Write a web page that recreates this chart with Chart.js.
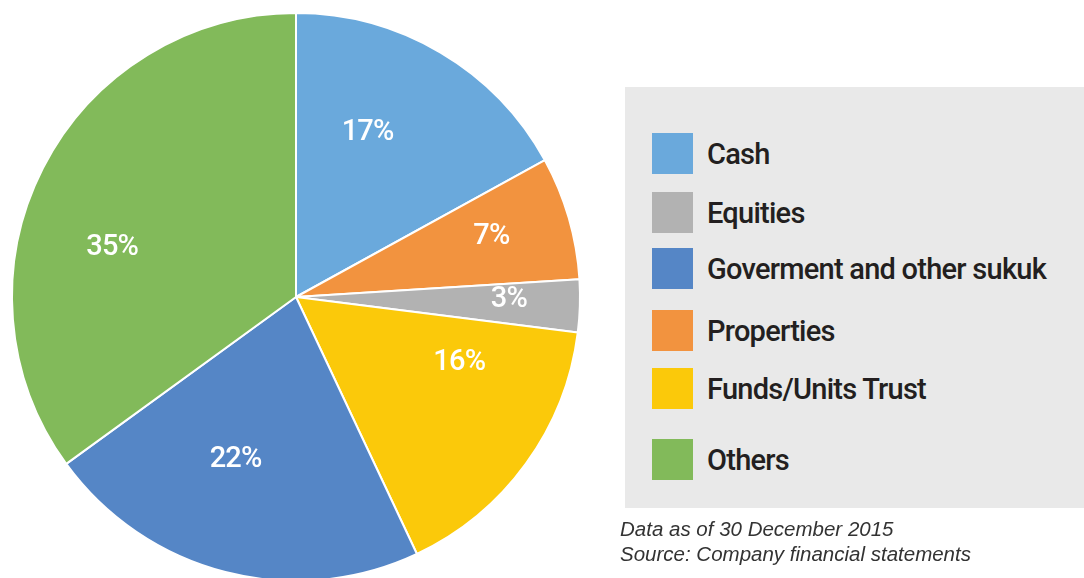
<!DOCTYPE html>
<html>
<head>
<meta charset="utf-8">
<script src="https://cdn.jsdelivr.net/npm/chart.js"></script>
<style>
  html, body { margin: 0; padding: 0; background: #ffffff; }
  #wrap { position: relative; width: 1084px; height: 578px; overflow: hidden; }
  #pie { position: absolute; left: 0; top: 0; }
  #legend_box { position: absolute; left: 625px; top: 87px; width: 459px; height: 421px; background: #e9e9e9; }
  .legend_row { position: absolute; left: 27px; height: 41px; display: flex; align-items: center; }
  .legend_swatch { width: 41px; height: 41px; margin-right: 14px; }
  .legend_text { font-family: Roboto, "Liberation Sans", sans-serif; font-weight: 500; font-size: 29px; color: #231f20; letter-spacing: -0.75px; }
  #note { position: absolute; left: 620px; top: 516px; font-family: "Liberation Sans", Arial, sans-serif; font-style: italic; font-size: 20.5px; line-height: 25px; color: #333333; }
</style>
</head>
<body>
<div id="wrap">
  <canvas id="pie" width="1084" height="578"></canvas>
  <div id="legend_box"></div>
  <div id="note">Data as of 30 December 2015<br>Source: Company financial statements</div>
</div>
<script>
// slices, clockwise from 12 o'clock
var slice_labels = ["Cash", "Properties", "Equities", "Funds/Units Trust", "Goverment and other sukuk", "Others"];
var slice_values = [17, 7, 3, 16, 22, 35];
var slice_colors = ["#6aa9dc", "#f2933f", "#b2b2b2", "#fbc90a", "#5586c6", "#82ba5a"];

// legend is listed in a different order than the slices
var legend_order = ["Cash", "Equities", "Goverment and other sukuk", "Properties", "Funds/Units Trust", "Others"];

// build the legend box
var legend_tops = [46, 105, 161, 223, 281, 352];
var legend_box = document.getElementById('legend_box');
for (i = 0; i < legend_order.length; i++) {
  var idx = slice_labels.indexOf(legend_order[i]);
  var row = document.createElement('div');
  row.className = 'legend_row';
  row.style.top = legend_tops[i] + 'px';
  var sw = document.createElement('div');
  sw.className = 'legend_swatch';
  sw.style.background = slice_colors[idx];
  var tx = document.createElement('div');
  tx.className = 'legend_text';
  tx.textContent = legend_order[i];
  row.appendChild(sw);
  row.appendChild(tx);
  legend_box.appendChild(row);
}

// percent labels inside the slices
var label_angle_nudge = [-7, -1, -1, -14, 6, -12];   // degrees
var label_radius_frac = [0.63, 0.72, 0.75, 0.62, 0.61, 0.67];

var pct_labels = {
  id: 'pct_labels',
  afterDatasetsDraw: function(chart) {
    var ctx = chart.ctx;
    var arcs = chart.getDatasetMeta(0).data;
    ctx.save();
    ctx.fillStyle = '#ffffff';
    ctx.font = '500 29px Roboto, "Liberation Sans", sans-serif';
    ctx.letterSpacing = '-0.8px';
    ctx.textAlign = 'center';
    ctx.textBaseline = 'middle';
    for (i = 0; i < arcs.length; i++) {
      var p = arcs[i].getProps(['x', 'y', 'startAngle', 'endAngle', 'outerRadius'], true);
      var mid = (p.startAngle + p.endAngle) / 2 + label_angle_nudge[i] * Math.PI / 180;
      var r = p.outerRadius * label_radius_frac[i];
      ctx.fillText(slice_values[i] + '%', p.x + Math.cos(mid) * r, p.y + Math.sin(mid) * r);
    }
    ctx.restore();
  }
};

new Chart(document.getElementById('pie'), {
  type: 'pie',
  data: {
    labels: slice_labels,
    datasets: [{
      data: slice_values,
      backgroundColor: slice_colors,
      borderColor: '#ffffff',
      borderWidth: 2,
      clip: false
    }]
  },
  options: {
    responsive: false,
    animation: false,
    radius: 284,
    layout: { padding: { left: 0, right: 492, top: 16, bottom: 0 } },
    plugins: {
      legend: { display: false },
      tooltip: { enabled: false }
    }
  },
  plugins: [pct_labels]
});
</script>
</body>
</html>
